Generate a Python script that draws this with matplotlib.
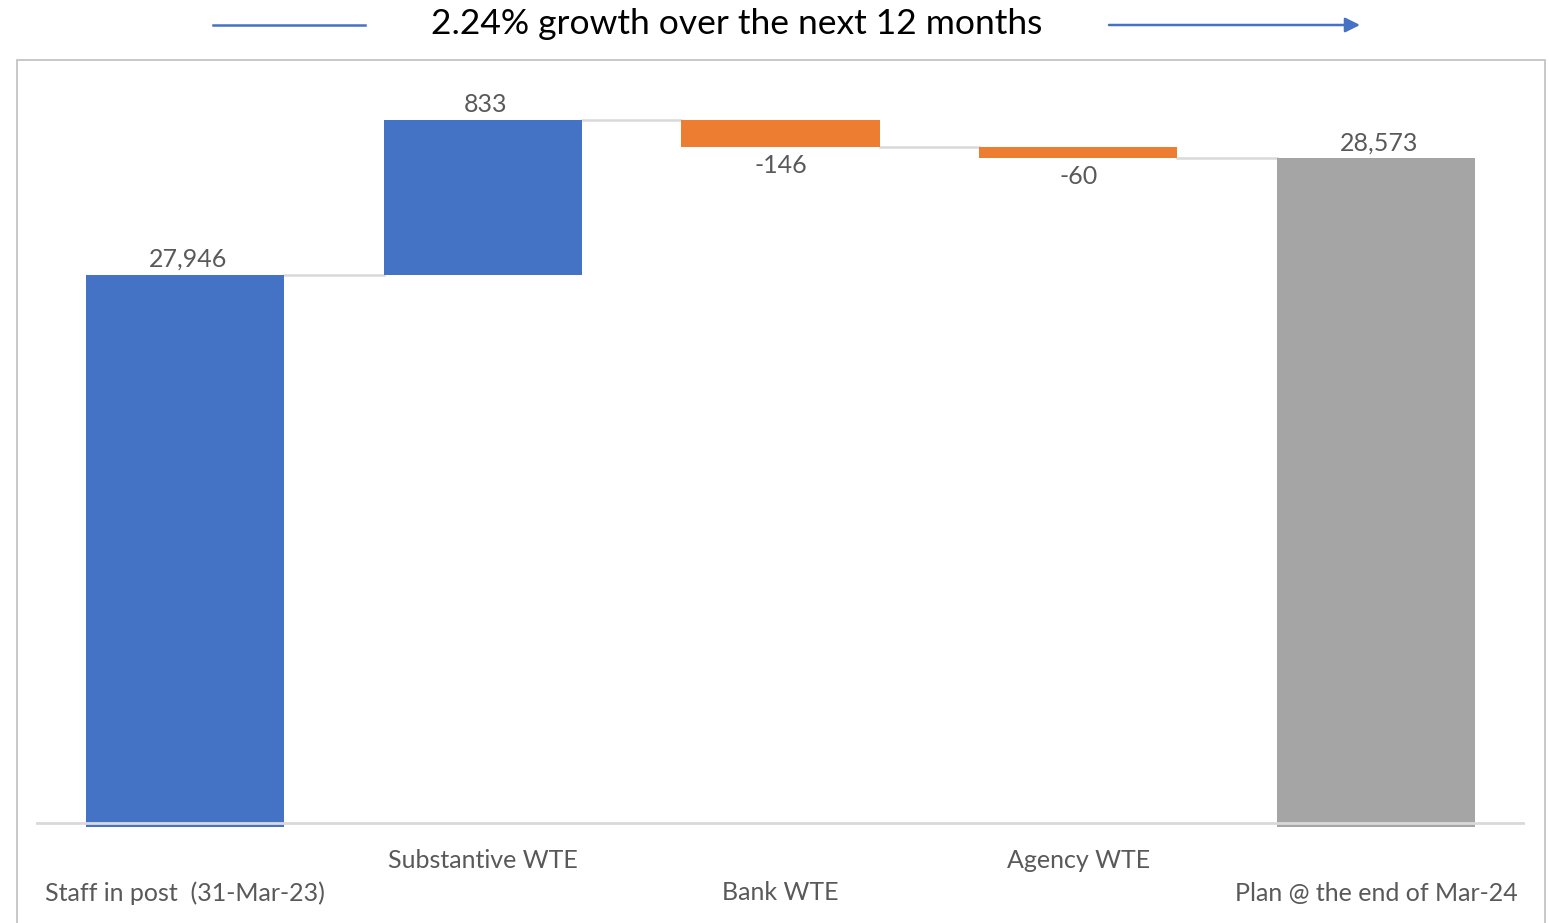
import matplotlib.pyplot as plt
from matplotlib.lines import Line2D
from matplotlib.patches import Rectangle

categories = ['Staff in post  (31-Mar-23)', 'Substantive WTE', 'Bank WTE',
              'Agency WTE', 'Plan @ the end of Mar-24']
values = [27946, 833, -146, -60, 28573]
is_total = [True, False, False, False, True]
title = '2.24% growth over the next 12 months'

blue = '#4472C4'
orange = '#ED7D31'
grey = '#A5A5A5'
txt = '#595959'
plt.rcParams['font.family'] = ['Lato', 'DejaVu Sans']

W, H = 1549, 923
fig = plt.figure(figsize=(W / 100, H / 100), dpi=100)
ax = fig.add_axes([36 / W, 96 / H, 1489 / W, 748 / H])
ymin, ymax = 24978, 29000
ax.set_ylim(ymin, ymax)
ax.set_xlim(-0.5, len(categories) - 0.5)
bw = 0.665
fs = 18

# running totals -> bar bottoms/tops
running = 0
tops = []
for i, v in enumerate(values):
    if is_total[i]:
        lo, hi = ymin, v
        col = grey if i == len(values) - 1 else blue
        running = v
    else:
        lo, hi = sorted([running, running + v])
        col = blue if v > 0 else orange
        running += v
    ax.bar(i, hi - lo, bottom=lo, width=bw, color=col, zorder=2)
    tops.append(running)
    lab = f'{v:,}'
    if v >= 0:
        ax.annotate(lab, (i, hi), xytext=(2, 3), textcoords='offset points',
                    ha='center', va='bottom', fontsize=fs, color=txt)
    else:
        ax.annotate(lab, (i, lo), xytext=(0, -5), textcoords='offset points',
                    ha='center', va='top', fontsize=fs, color=txt)

# connectors between bars
for i in range(len(values) - 1):
    ax.plot([i + bw / 2, i + 1 - bw / 2], [tops[i], tops[i]],
            color='#D9D9D9', lw=1.8, zorder=1)

ax.axhline(25000, color='#D9D9D9', lw=2, zorder=3)

for s in ax.spines.values():
    s.set_visible(False)
ax.set_yticks([])
ax.set_xticks([])

# staggered category labels
for i, c in enumerate(categories):
    y = 860 if i % 2 else 893
    fig.text(ax.transData.transform((i, 0))[0] / W, 1 - y / H, c,
             ha='center', va='center', fontsize=fs, color=txt)

# outer frame
fig.add_artist(Rectangle((17 / W, -0.01), (1545 - 17) / W, 1 - 60 / H + 0.01,
                         transform=fig.transFigure, fill=False,
                         ec='#BFBFBF', lw=1.2))

fig.text(737 / W, 1 - 24 / H, title, ha='center', va='center',
         fontsize=25.5, color='black')
fig.add_artist(Line2D([213 / W, 365 / W], [1 - 25 / H, 1 - 25 / H],
                      transform=fig.transFigure, color=blue, lw=1.8))
ax.annotate('', xy=(1360 / W, 1 - 25 / H), xytext=(1109 / W, 1 - 25 / H),
            xycoords='figure fraction', textcoords='figure fraction',
            arrowprops=dict(arrowstyle='-|>', color=blue, lw=1.8,
                            mutation_scale=22, shrinkA=0, shrinkB=0))

fig.savefig('out.png', dpi=100, facecolor='white')
